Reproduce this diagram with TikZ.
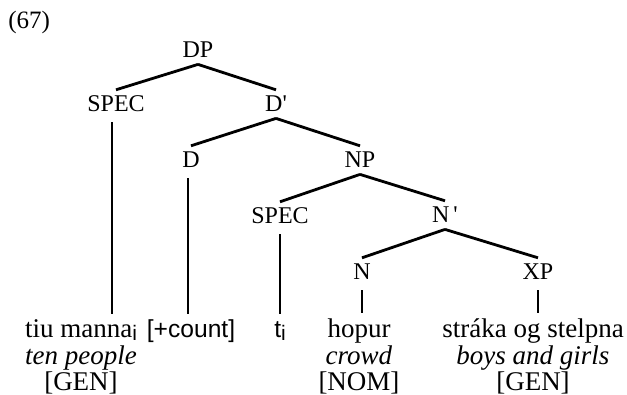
\documentclass[tikz,border=0pt]{standalone}
\usepackage{fontspec}
\setmainfont{Liberation Serif}[Ligatures=TeXOff]
\setsansfont{Liberation Sans}
\newcommand{\subi}{\raisebox{-1.5pt}{\sffamily\fontsize{10.5}{10.5}\selectfont i}}
\newcommand{\colstack}[1]{\begin{tabular}[t]{@{}c@{}}#1\end{tabular}}
\begin{document}
\begin{tikzpicture}[x=0.5pt,y=-0.5pt,
  tl/.style={font=\fontsize{12}{13}\selectfont, inner xsep=0pt, inner ysep=3pt,
             text height=7.9pt, text depth=0pt, anchor=base},
  bw/.style={font=\fontsize{13.5}{12.75}\selectfont, inner xsep=0pt, inner ysep=3pt, anchor=base},
  br/.style={line width=1.4pt},
  vt/.style={line width=1.4pt, shorten <=2pt}]
\useasboundingbox (0,0) rectangle (627,395);
\node[font=\fontsize{12.5}{14}\selectfont, inner sep=0pt, anchor=base west] (ex) at (8,29) {(67)};
% tree labels
\node[tl] (dp) at (198,58) {DP};
\node[tl] (spec1) at (116,112) {SPEC};
\node[tl] (dbar) at (276,112) {D'};
\node[tl] (d) at (191,168) {D};
\node[tl] (np) at (360,168) {NP};
\node[tl] (spec2) at (280,224) {SPEC};
\node[tl] (nbar) at (445,223) {N\,'};
\node[tl] (n) at (362,280) {N};
\node[tl] (xp) at (538,280) {XP};
% bottom words
\node[bw] (w1) at (81,338) {\colstack{tiu manna\subi\\ \textit{ten people}\\ {[GEN]}}};
\node[bw] (w2) at (191,338) {\colstack{\sffamily\fontsize{12.3}{12.75}\selectfont [+count]}};
\node[bw] (w3) at (280,338) {\colstack{\sffamily\fontsize{12.3}{12.75}\selectfont t\subi}};
\node[bw] (w4) at (359,338) {\colstack{hopur\\ \textit{crowd}\\ {[NOM]}}};
\node[bw] (w5) at (533,338) {\colstack{stráka og stelpna\\ \textit{boys and girls}\\ {[GEN]}}};
% branches
\draw[br] (dp.south) -- (spec1.north);
\draw[br] (dp.south) -- (dbar.north);
\draw[br] (dbar.south) -- (d.north);
\draw[br] (dbar.south) -- (np.north);
\draw[br] (np.south) -- (spec2.north);
\draw[br] (np.south) -- (nbar.north);
\draw[br] (nbar.south) -- (n.north);
\draw[br] (nbar.south) -- (xp.north);
% verticals
\draw[vt] ([xshift=-2pt]spec1.south) -- ([xshift=-2pt]spec1.south |- w1.north);
\draw[vt] ([xshift=-1.5pt]d.south) -- ([xshift=-1.5pt]d.south |- w2.north);
\draw[vt] (spec2.south) -- (spec2.south |- w3.north);
\draw[vt] (n.south) -- (n.south |- w4.north);
\draw[vt] (xp.south) -- (xp.south |- w5.north);
\end{tikzpicture}
\end{document}
